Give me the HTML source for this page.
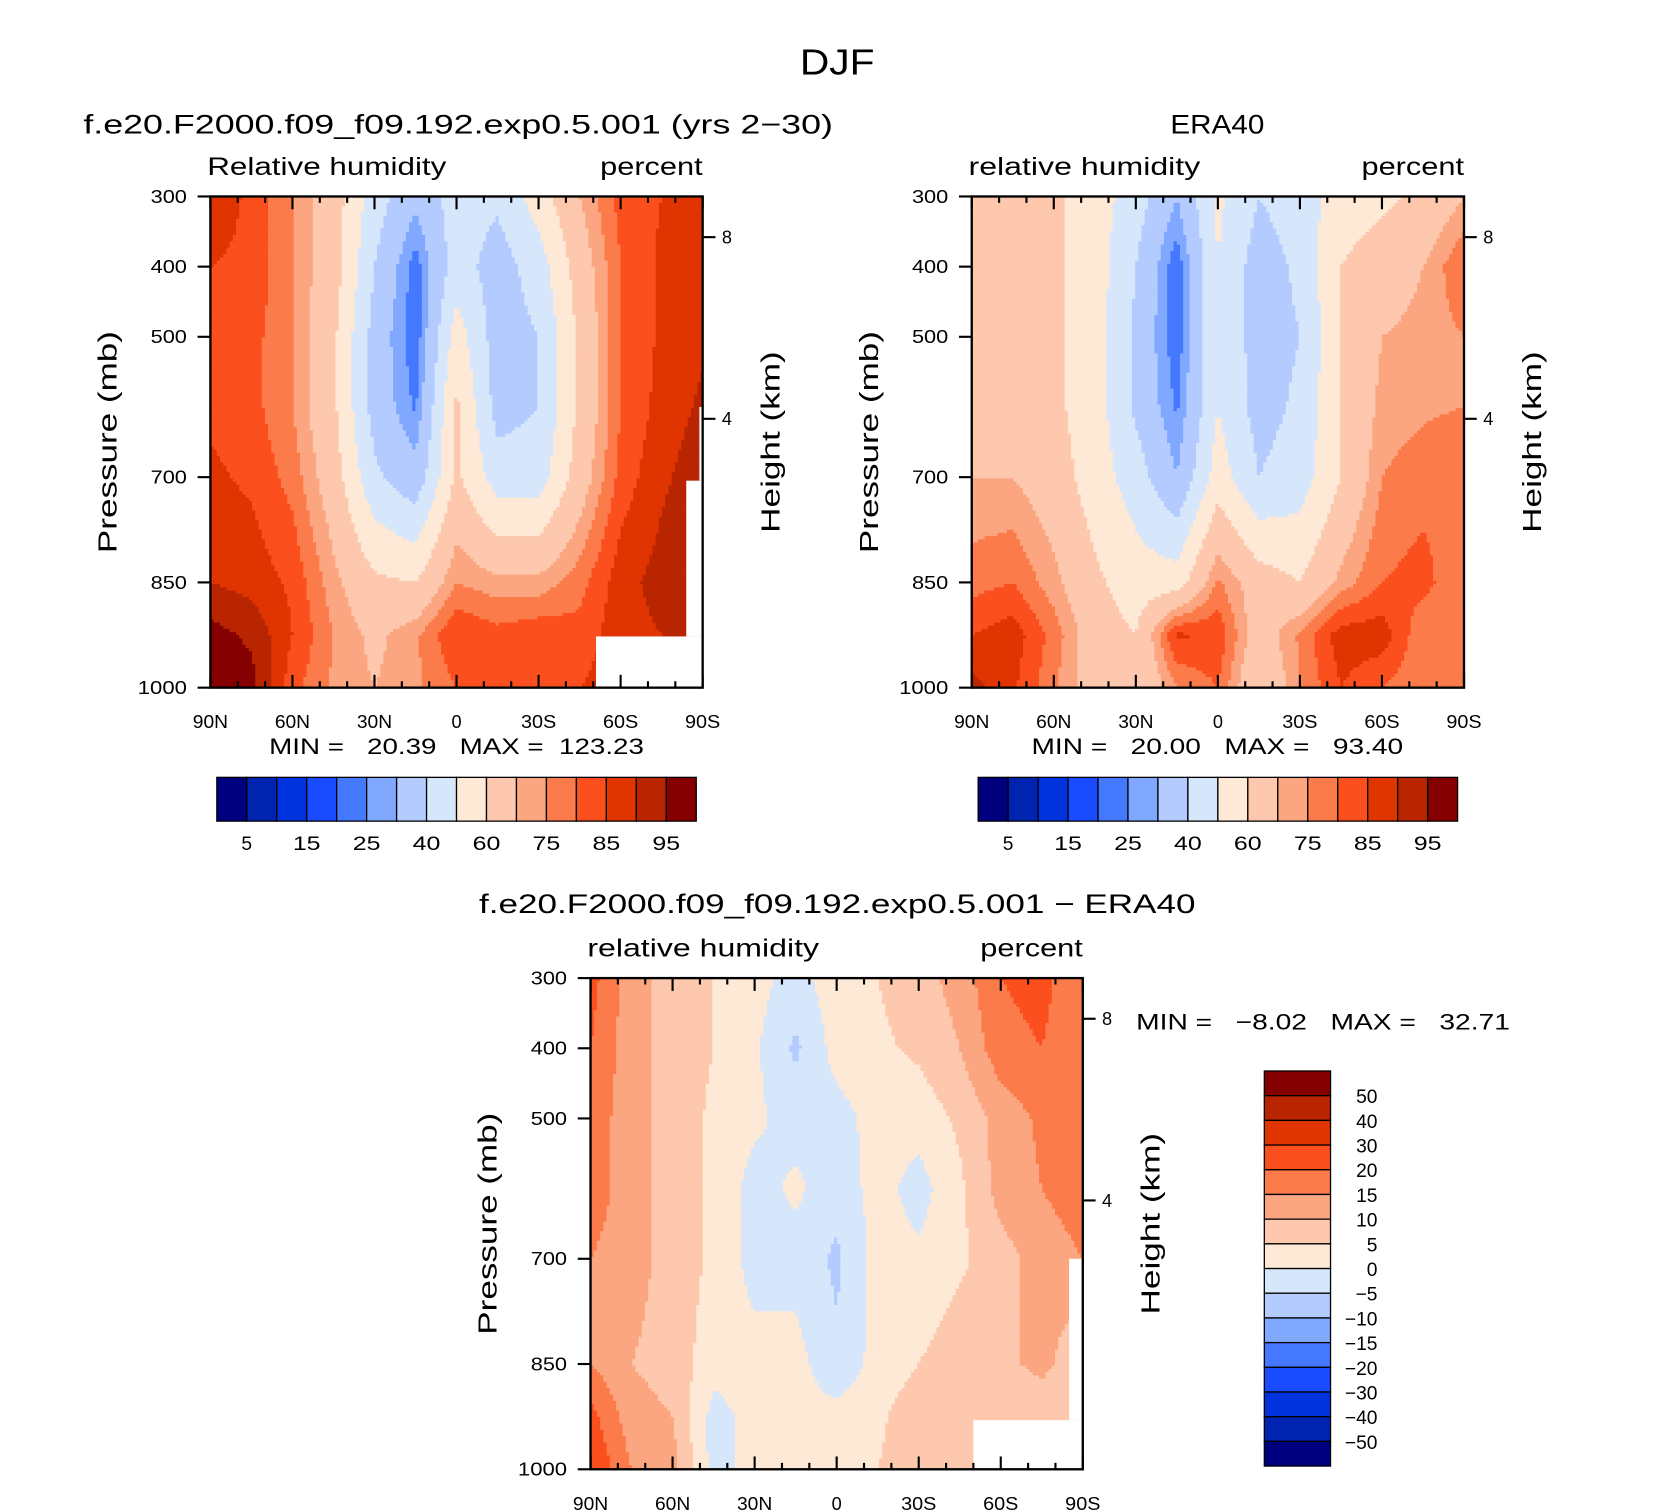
<!DOCTYPE html>
<html><head><meta charset="utf-8"><style>
html,body{margin:0;padding:0;background:#fff;}
svg{display:block;font-family:"Liberation Sans","DejaVu Sans",sans-serif;}
</style></head><body>
<svg id="fig" width="1668" height="1512" viewBox="0 0 1562 1416" xmlns="http://www.w3.org/2000/svg">
<g id="plots"></g>
</svg>
<script>
// ---- data ----
const lats = [90,75,60,45,30,15,0,-15,-30,-45,-60,-75,-90];
const plevs = [300,400,500,600,700,850,925,1000];
const modelRH = [
 [88,84,75,65,45,32,45,42,55,70,82,85,87],
 [85,84,75,65,40,22,45,35,45,65,80,86,89],
 [84,82,75,62,36,21,55,35,40,62,80,86,89],
 [84,82,75,62,36,24,62,36,40,62,80,87,91],
 [86,84,78,65,42,33,62,45,45,65,82,89,93],
 [90,88,84,72,62,60,75,72,72,78,88,92,95],
 [97,94,85,75,68,74,85,82,84,82,88,90,92],
 [99,97,82,74,70,74,80,80,80,85,88,90,92]];
const eraRH = [
 [65,65,62,55,45,30,52,40,45,55,58,62,70],
 [65,65,62,55,40,21,50,35,42,60,65,70,80],
 [65,65,62,55,38,21,50,35,40,60,70,72,75],
 [65,65,62,55,38,24,50,36,42,60,72,74,75],
 [70,70,65,55,45,30,55,40,45,60,75,78,80],
 [78,80,72,62,55,55,76,65,60,72,80,82,75],
 [85,88,78,65,60,86,84,65,76,88,88,76,75],
 [92,86,76,65,60,75,80,60,75,85,80,76,75]];
const diffRH = [
 [22,12,8,5,2,-2,3,5,8,12,20,22,15],
 [20,12,8,5,1,-6,2,4,6,10,18,20,15],
 [18,12,8,4,1,-2,-2,2,2,6,12,16,15],
 [18,12,8,4,-2,1,-3,2,-2,4,12,15,18],
 [15,12,8,4,-2,-2,-6,2,1,4,8,12,15],
 [15,10,8,2,2,2,-4,2,5,8,8,12,5],
 [22,12,10,-2,2,2,2,4,8,5,5,5,5],
 [25,15,12,-2,2,2,2,5,8,5,5,5,5]];
const rhLevels = [5,10,15,20,25,30,40,50,60,70,75,80,85,90,95];
const rhLabels = ["5","15","25","40","60","75","85","95"];
const diffLevels = [-50,-40,-30,-20,-15,-10,-5,0,5,10,15,20,30,40,50];
const diffLabels = ["50","40","30","20","15","10","5","0","−5","−10","−15","−20","−30","−40","−50"];
const colors = ["#00007f","#0024b0","#0033dd","#1a4cff","#4479ff","#80a8ff","#b3cbff","#d6e6fb","#fee8d6","#fdc8ad","#fca681","#fb7c4a","#fb4f1e","#e03500","#b82500","#850000"];
const latTickLabels = ["90N","60N","30N","0","30S","60S","90S"];
const pTickLabels = [300,400,500,700,850,1000];
const hTicks = [8,4];

const NS="http://www.w3.org/2000/svg";
const root=document.getElementById('plots');
function mk(tag,attrs,parent){const e=document.createElementNS(NS,tag);for(const k in attrs)e.setAttribute(k,attrs[k]);(parent||root).appendChild(e);return e;}
function txt(x,y,s,size,len,anchor,parent){
  const a={x:x,y:y,'font-size':size,style:'white-space:pre'};
  if(anchor)a['text-anchor']=anchor;
  if(len){a.textLength=len;a.lengthAdjust='spacingAndGlyphs';}
  const e=mk('text',a,parent);e.textContent=s;return e;
}
function colorFor(v,levels){let i=0;while(i<levels.length&&v>=levels[i])i++;return colors[i];}
function interp(data,lat,p){
  let fi=(90-lat)/15; fi=Math.max(0,Math.min(12,fi));
  let i0=Math.min(11,Math.floor(fi)), tx=fi-i0;
  let j0=0; while(j0<plevs.length-2&&p>plevs[j0+1])j0++;
  let ty=(p-plevs[j0])/(plevs[j0+1]-plevs[j0]); ty=Math.max(0,Math.min(1,ty));
  const a=data[j0][i0],b=data[j0][i0+1],c=data[j0+1][i0],d=data[j0+1][i0+1];
  return (a*(1-tx)+b*tx)*(1-ty)+(c*(1-tx)+d*tx)*ty;
}
function plot(name,x0,y0,data,levels,topLeft,blanks,tl){
  const W=461,H=460;
  const xs=lat=>x0+(90-lat)/180*W;
  const ys=p=>y0+(p-300)/700*H;
  const g=mk('g',{});
  
  
  const cg=mk('g',{},g);
  
  
  const step=3;
  for(let y=0;y<H;y+=step){
    const p=300+(y+step/2)/H*700;
    let runStart=0,runCol=null;
    for(let x=0;x<W;x+=step){
      const lat=90-(x+step/2)/W*180;
      const col=colorFor(interp(data,lat,p),levels);
      if(col!==runCol){
        if(runCol!==null)mk('rect',{x:x0+runStart,y:y0+y,width:x-runStart+0.6,height:Math.min(step+0.6,H-y),fill:runCol},cg);
        runStart=x;runCol=col;
      }
    }
    mk('rect',{x:x0+runStart,y:y0+y,width:W-runStart,height:Math.min(step+0.6,H-y),fill:runCol},cg);
  }
  blanks.forEach(b=>{const r=mk('rect',{x:xs(b[0]),y:ys(b[2]),width:xs(b[1])-xs(b[0]),height:ys(b[3])-ys(b[2]),fill:'#fff'},g);
    });
  const fr=mk('rect',{x:x0,y:y0,width:W,height:H,fill:'none',stroke:'#000','stroke-width':2.2},g);
  
  for(let lat=90;lat>=-90;lat-=10){
    const x=xs(lat),maj=(lat%30===0);const L=maj?12:6;
    mk('line',{x1:x,x2:x,y1:y0+H,y2:y0+H-L,stroke:'#000','stroke-width':2},g);
    mk('line',{x1:x,x2:x,y1:y0,y2:y0+L,stroke:'#000','stroke-width':2},g);
  }
  latTickLabels.forEach((t,i)=>{const e=txt(xs(90-30*i),y0+H+38,t,17,t.length>1?33:null,'middle',g);
    });
  pTickLabels.forEach(pv=>{const y=ys(pv);mk('line',{x1:x0,x2:x0-12,y1:y,y2:y,stroke:'#000','stroke-width':2},g);
    const e=txt(x0-22,y+6,String(pv),17,pv>=1000?46:34,'end',g);
    });
  hTicks.forEach(h=>{const p=1063*Math.exp(-h/7.35);const y=ys(p);
    mk('line',{x1:x0+W,x2:x0+W+12,y1:y,y2:y,stroke:'#000','stroke-width':2},g);
    const e=txt(x0+W+18,y+6,String(h),17,null,null,g);
    });
  let e=mk('text',{x:0,y:0,'font-size':24,'text-anchor':'middle',textLength:208,lengthAdjust:'spacingAndGlyphs',transform:`translate(${x0-88},${y0+230}) rotate(-90)`},g);e.textContent='Pressure (mb)';
  
  e=mk('text',{x:0,y:0,'font-size':24,'text-anchor':'middle',textLength:170,lengthAdjust:'spacingAndGlyphs',transform:`translate(${x0+W+72},${y0+230}) rotate(-90)`},g);e.textContent='Height (km)';
  
  e=txt(x0-3,y0-20,topLeft,23,tl,null,g);
  
  e=txt(x0+W,y0-20,'percent',23,96,'end',g);
  
  return g;
}
function hbar(x0,y0){
  const g=mk('g',{});
  const w=449/16;
  colors.forEach((c,i)=>{const r=mk('rect',{x:x0+i*w,y:y0,width:w,height:41,fill:c,stroke:'#000','stroke-width':1.2},g);
    });
  rhLabels.forEach((t,i)=>{const e=txt(x0+w*(2*i+1),y0+68,t,18,t.length>1?26:null,'middle',g);
    });
}
function named(e,n){}

named(txt(784,70,'DJF',34,70,'middle'),'main-title');
named(txt(429,125,'f.e20.F2000.f09_f09.192.exp0.5.001 (yrs 2−30)',25,702,'middle'),'model-title');
named(txt(1140,125,'ERA40',25,88,'middle'),'era40-title');
named(txt(784,855,'f.e20.F2000.f09_f09.192.exp0.5.001 − ERA40',25,671,'middle'),'diff-title');

plot('model',197,184,modelRH,rhLevels,'Relative humidity',[[-51,-90,927,1001],[-84,-90,705,927],[-88.8,-90,600,705]],224);
plot('era40',910,184,eraRH,rhLevels,'relative humidity',[],217);
plot('diff',553,916,diffRH,diffLevels,'relative humidity',[[-50,-90,930,1001],[-85,-90,700,930]],217);
hbar(203,728);hbar(916,728);
named(txt(252,706,'MIN =   20.39   MAX =  123.23',21,351),'model-min-max');
named(txt(966,706,'MIN =   20.00   MAX =   93.40',21,348),'era40-min-max');
named(txt(1064,964,'MIN =   −8.02   MAX =   32.71',21,350),'diff-min-max');
(function(){
  const g=mk('g',{});
  const h=370/16;
  colors.slice().reverse().forEach((c,i)=>{const r=mk('rect',{x:1184,y:1003+i*h,width:62,height:h,fill:c,stroke:'#000','stroke-width':1.2},g);
    });
  diffLabels.forEach((t,i)=>{const e=txt(1290,1003+h*(i+1)+7,t,18,null,'end',g);
    });
})();
</script>
</body></html>
